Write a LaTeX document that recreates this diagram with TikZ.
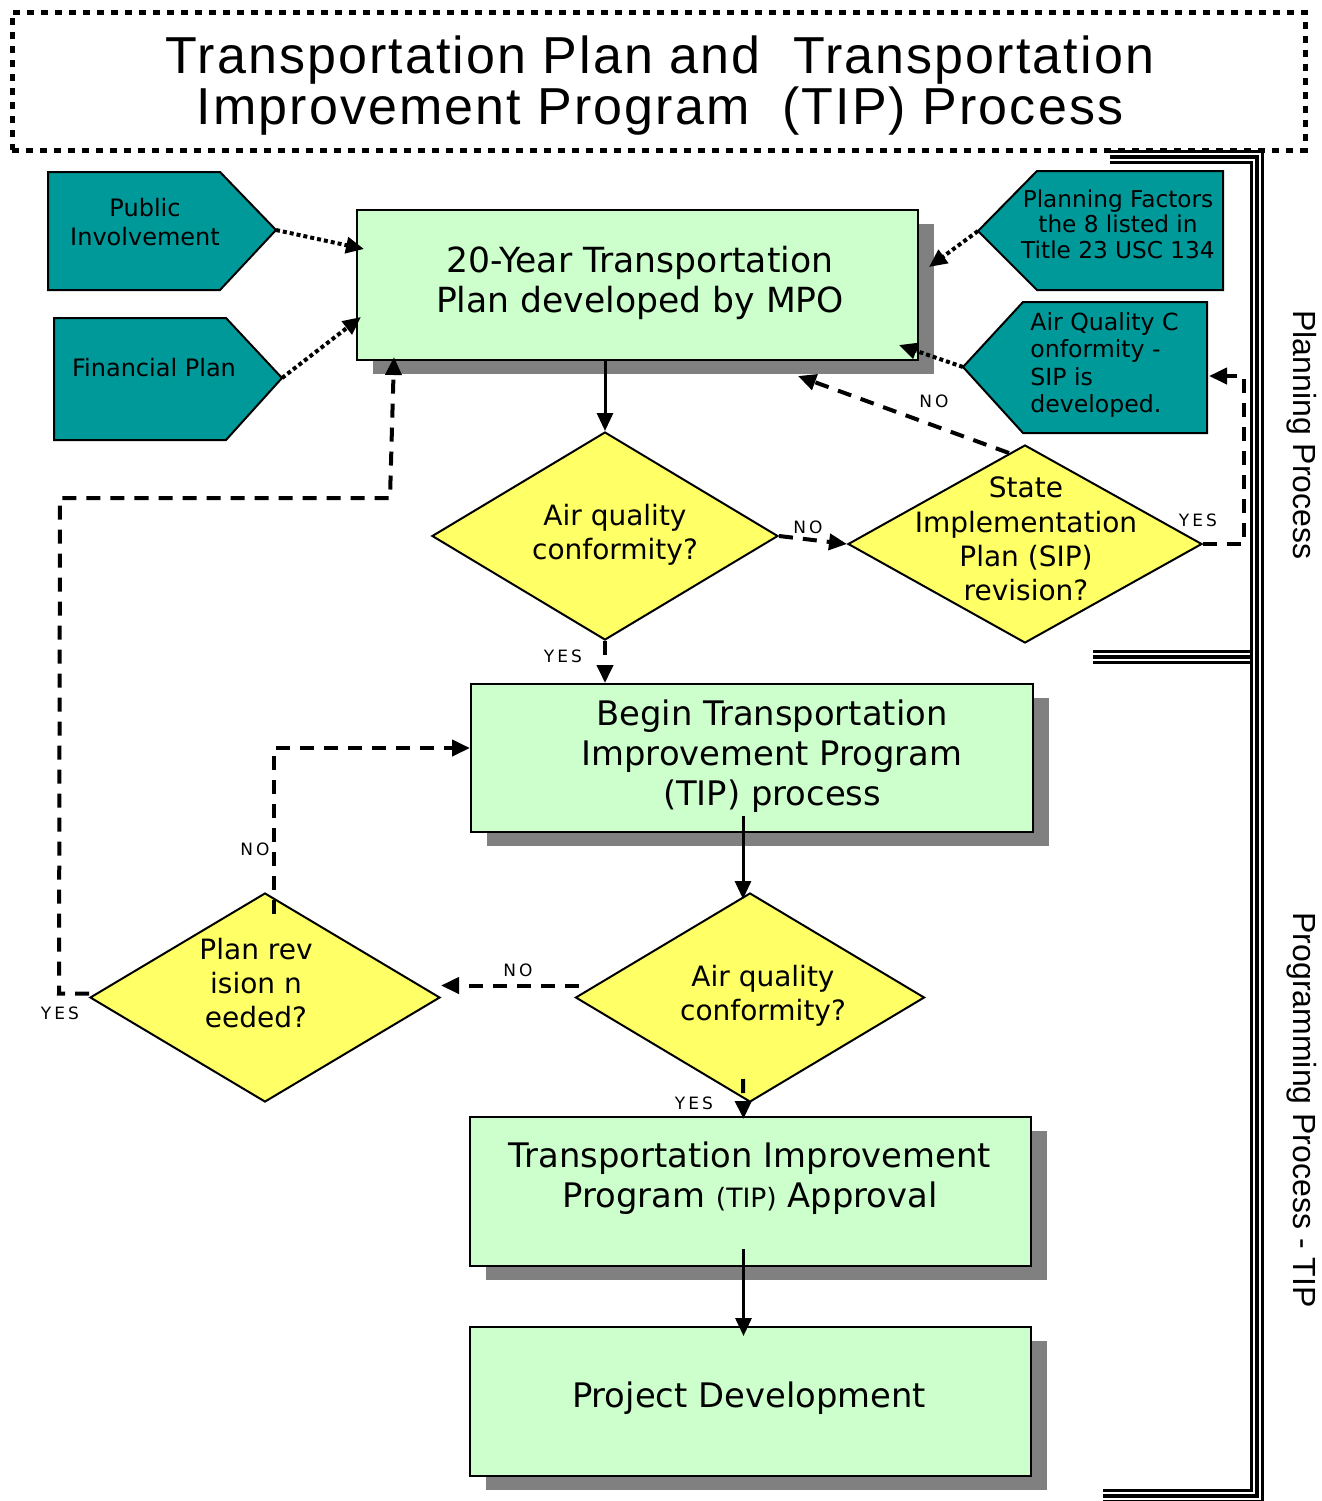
\documentclass[tikz,border=0pt]{standalone}
\usepackage{fontspec}
\setmainfont{DejaVu Sans}
\newfontfamily\arialf{Liberation Sans}
\newfontfamily\titlef[LetterSpace=4]{Liberation Sans}
\newfontfamily\smallf[LetterSpace=18]{DejaVu Sans}
\usetikzlibrary{shapes.geometric,arrows.meta,calc,shadows}
\definecolor{tealfill}{HTML}{009999}
\definecolor{greenfill}{HTML}{CCFFCC}
\definecolor{yellowfill}{HTML}{FFFF66}
\definecolor{shadowgray}{HTML}{808080}
\tikzset{
  titlebox/.style={draw=black, line width=2.5pt, dash pattern=on 3.5pt off 3.5pt, inner sep=0pt, align=center,
    font=\titlef\fontsize{26}{25.5}\selectfont},
  pent/.style={draw=black, line width=1pt, fill=tealfill},
  ptxt/.style={align=center, inner sep=0pt, font=\fontsize{12}{14.5}\selectfont},
  gbox/.style={draw=black, line width=1pt, fill=greenfill, inner sep=0pt,
    drop shadow={shadow xshift=8pt, shadow yshift=-7pt, fill=shadowgray, opacity=1}},
  btxt/.style={align=center, inner sep=0pt, font=\fontsize{16.9}{20}\selectfont},
  diam/.style={diamond, draw=black, line width=1pt, fill=yellowfill, inner sep=0pt},
  dtxt/.style={align=center, inner sep=0pt, font=\fontsize{14}{17}\selectfont},
  lbl/.style={inner sep=0pt, font=\smallf\fontsize{8.5}{10}\selectfont},
  solidarrow/.style={line width=1.5pt, -{Triangle[length=9pt,width=8pt]}},
  dasharrow/.style={line width=2pt, dash pattern=on 7pt off 5pt, -{Triangle[length=9pt,width=8pt]}},
  dotarrow/.style={line width=2pt, dash pattern=on 2pt off 1.5pt, -{Triangle[length=9pt,width=8pt]}},
  tline/.style={preaction={draw=black, line width=7pt}, preaction={draw=white, line width=4pt}, draw=black, line width=2pt},
  sidelbl/.style={rotate=-90, inner sep=0pt, font=\arialf\fontsize{16}{18}\selectfont}
}
\begin{document}
\begin{tikzpicture}[x=0.5pt,y=-0.5pt]
\useasboundingbox (0,0) rectangle (1322,1501);
\fill[white] (0,0) rectangle (1322,1501);

% title
\node[titlebox, minimum width=646.5pt, minimum height=69pt] (title) at (658.5,81) {};
\node[inner sep=0pt, align=center, font=\titlef\fontsize{26}{25.5}\selectfont] (titletext) at (660,86)
  {Transportation Plan and \ Transportation\\Improvement Program \ (TIP) Process};

% bracket
\draw[tline] (1110,157) -- (1257,157) -- (1257,1496) -- (1103,1496);
\draw[tline] (1093,657) -- (1250,657);
\node[sidelbl] (pp) at (1302,435) {Planning Process};
\node[sidelbl] (prog) at (1302,1110) {Programming Process - TIP};

% pentagons
\draw[pent] (48,172) -- (220,172) -- (276,230) coordinate (pitip) -- (220,290) -- (48,290) -- cycle;
\node[ptxt] (pit) at (145,222) {Public\\Involvement};
\draw[pent] (54,318) -- (226,318) -- (282,378) coordinate (fptip) -- (226,440) -- (54,440) -- cycle;
\node[ptxt] (fpt) at (154,368) {Financial Plan};
\draw[pent] (1223,171) -- (1037,171) -- (978,231) coordinate (pftip) -- (1037,290) -- (1223,290) -- cycle;
\node[ptxt, font=\fontsize{11.6}{12.75}\selectfont] (pft) at (1118,224) {Planning Factors\\the 8 listed in\\Title 23 USC 134};
\draw[pent] (1207,302) -- (1023,302) -- (963,367) coordinate (aqtip) -- (1023,433) -- (1207,433) -- cycle;
\coordinate (aqright) at (1209,376);
\node[ptxt, align=left, anchor=west, font=\fontsize{11.8}{13.6}\selectfont] (aqt) at (1030,365) {Air Quality C\\onformity -\\SIP is\\developed.};

% boxes
\node[gbox, minimum width=280.5pt, minimum height=75pt] (b1) at (637.5,285) {};
\node[btxt, font=\fontsize{17.3}{20}\selectfont] (b1t) at (640,283) {20-Year Transportation\\Plan developed by MPO};
\node[gbox, minimum width=281pt, minimum height=74pt] (b2) at (752,758) {};
\node[btxt] (b2t) at (772,756) {Begin Transportation\\Improvement Program\\(TIP) process};
\node[gbox, minimum width=280.5pt, minimum height=74.5pt] (b3) at (750.5,1191.5) {};
\node[btxt] (b3t) at (750,1178) {Transportation Improvement\\Program {\fontsize{13.3}{20}\selectfont(TIP)} Approval};
\node[gbox, minimum width=280.5pt, minimum height=74.5pt] (b4) at (750.5,1401.5) {};
\node[btxt] (b4t) at (749,1398) {Project Development};

% diamonds
\node[diam, minimum width=173pt, minimum height=104pt] (d1) at (605,536) {};
\node[dtxt] (d1t) at (615,535) {Air quality\\conformity?};
\node[diam, minimum width=177pt, minimum height=99pt] (d2) at (1025,544) {};
\node[dtxt, font=\fontsize{14}{17.2}\selectfont] (d2t) at (1026,539) {State\\Implementation\\Plan (SIP)\\revision?};
\node[diam, minimum width=174.5pt, minimum height=104.5pt] (d3) at (750,997.5) {};
\node[dtxt] (d3t) at (763,996) {Air quality\\conformity?};
\node[diam, minimum width=175pt, minimum height=104.5pt] (d4) at (265,997.5) {};
\node[dtxt] (d4t) at (256,983) {Plan rev\\ision n\\eeded?};

% dotted inputs
\draw[dotarrow] (pitip) -- ($(b1.north west)+(8,40)$);
\draw[dotarrow] (fptip) -- ($(b1.north west)+(5,108)$);
\draw[dotarrow] (pftip) -- ($(b1.north east)+(10,58)$);
\draw[dotarrow] (aqtip) -- ($(b1.south east)+(-20,-16)$);

% main flow
\draw[solidarrow] (d1.north |- b1.south) -- (d1.north);
\draw[dasharrow] (d1.south) -- (d1.south |- b2.north);
\draw[dasharrow] (d1.east) -- (d2.west);
\draw[dasharrow] (d2.100) -- ($(b1.south)+(160.5,15)$);
\draw[dasharrow] (d2.east) -- ++(41,0) |- (aqright);
\draw[solidarrow] ($(b2.south)+(-9,-17)$) -- ($(d3.north)+(-7,7)$);
\draw[dasharrow] ($(d3.west)+(4,-12)$) -- ($(d4.east)+(0,-12)$);
\draw[dasharrow] ($(d3.south)+(-7,-24)$) -- ($(b3.north)+(-7,3)$);
\draw[solidarrow] ($(b3.south)+(-7,-18)$) -- ($(b4.north)+(-7,10)$);
\draw[dasharrow] ($(d4.north)+(9,22)$) |- ($(b2.west)+(0,-10)$);
\draw[dasharrow] ($(d4.west)+(0,-4)$) -- ++(-30,0) -- (60,498) -- (390,498) -- ($(b1.south west)+(38,-4)$);

% labels
\node[lbl] (l1) at (934,401) {NO};
\node[lbl] (l2) at (808,527) {NO};
\node[lbl] (l3) at (1198,520) {YES};
\node[lbl] (l4) at (563,656) {YES};
\node[lbl] (l5) at (255,849) {NO};
\node[lbl] (l6) at (518,970) {NO};
\node[lbl] (l7) at (60,1013) {YES};
\node[lbl] (l8) at (694,1103) {YES};
\end{tikzpicture}
\end{document}
